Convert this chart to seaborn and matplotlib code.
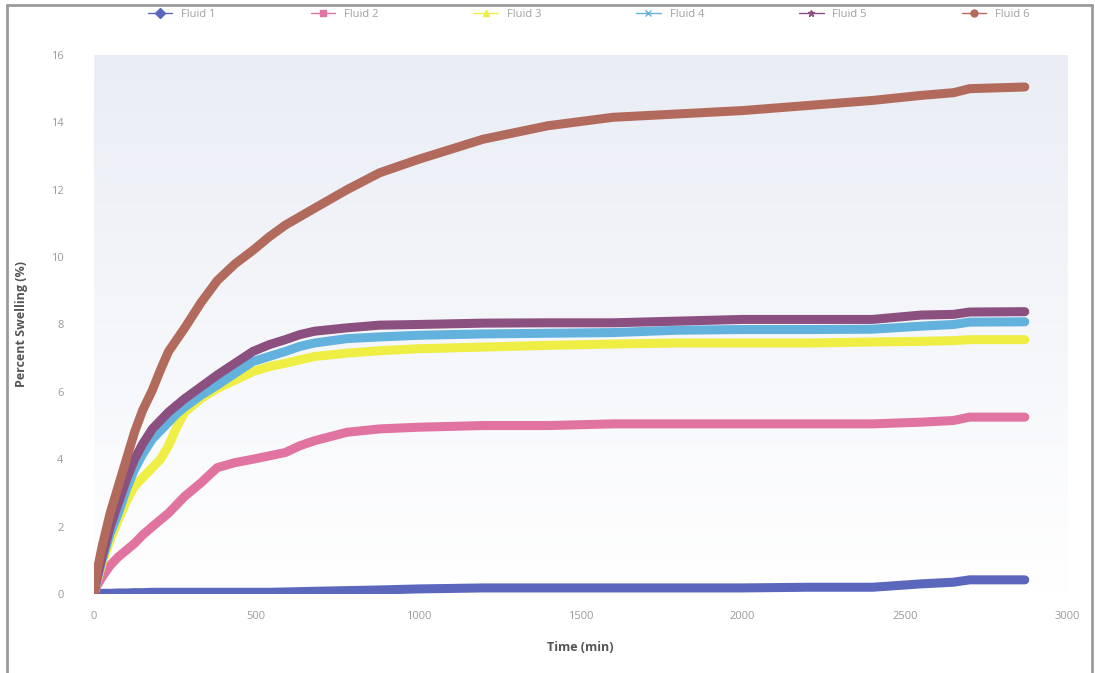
import numpy as np
import pandas as pd
import seaborn as sns
import matplotlib
matplotlib.use("Agg")
import matplotlib.pyplot as plt
from matplotlib.lines import Line2D

time_min = [0, 10, 25, 50, 75, 100, 125, 150, 180, 205, 230, 255, 280, 330, 380, 435,
            490, 540, 590, 635, 680, 780, 880, 1000, 1200, 1400, 1600, 1800, 2000,
            2200, 2400, 2550, 2650, 2700, 2870]

fluid_1 = [0, 0.01, 0.02, 0.02, 0.03, 0.03, 0.04, 0.04, 0.05, 0.05, 0.05, 0.05, 0.05, 0.05,
           0.05, 0.05, 0.05, 0.05, 0.06, 0.07, 0.08, 0.1, 0.12, 0.15, 0.18, 0.18, 0.18,
           0.18, 0.18, 0.2, 0.2, 0.3, 0.35, 0.42, 0.42]
fluid_2 = [0, 0.25, 0.5, 0.85, 1.1, 1.3, 1.5, 1.75, 2.0, 2.2, 2.4, 2.65, 2.9, 3.3, 3.75, 3.9,
           4.0, 4.1, 4.2, 4.4, 4.55, 4.8, 4.9, 4.95, 5.0, 5.0, 5.05, 5.05, 5.05, 5.05, 5.05,
           5.1, 5.15, 5.25, 5.25]
fluid_3 = [0, 0.4, 0.9, 1.6, 2.2, 2.75, 3.2, 3.45, 3.75, 4.0, 4.4, 4.95, 5.4, 5.8, 6.1, 6.35,
           6.6, 6.75, 6.85, 6.95, 7.05, 7.15, 7.22, 7.28, 7.33, 7.38, 7.42, 7.45, 7.45, 7.45,
           7.48, 7.5, 7.52, 7.55, 7.55]
fluid_4 = [0, 0.45, 1.0, 1.8, 2.4, 3.1, 3.7, 4.15, 4.6, 4.85, 5.1, 5.35, 5.55, 5.9, 6.2, 6.55,
           6.9, 7.05, 7.2, 7.35, 7.45, 7.58, 7.63, 7.68, 7.72, 7.74, 7.76, 7.83, 7.85, 7.85,
           7.86, 7.95, 8.0, 8.07, 8.08]
fluid_5 = [0, 0.5, 1.1, 2.0, 2.7, 3.4, 4.0, 4.45, 4.9, 5.15, 5.4, 5.6, 5.8, 6.15, 6.5, 6.85,
           7.2, 7.4, 7.55, 7.7, 7.8, 7.9, 7.98, 8.0, 8.04, 8.05, 8.05, 8.1, 8.15, 8.15, 8.15,
           8.28, 8.3, 8.37, 8.38]
fluid_6 = [0, 0.7, 1.4, 2.4, 3.2, 4.0, 4.8, 5.45, 6.05, 6.65, 7.2, 7.55, 7.9, 8.65, 9.3, 9.8,
           10.2, 10.6, 10.95, 11.2, 11.45, 12.0, 12.5, 12.9, 13.5, 13.9, 14.15, 14.25, 14.35,
           14.5, 14.65, 14.8, 14.88, 15.0, 15.05]

names = ["Fluid 1", "Fluid 2", "Fluid 3", "Fluid 4", "Fluid 5", "Fluid 6"]
colors = ["#5a67bd", "#e073a0", "#eeee45", "#62b2dd", "#8b4f80", "#b26a5c"]
markers = ["D", "s", "^", "x", "*", "o"]

series = [fluid_1, fluid_2, fluid_3, fluid_4, fluid_5, fluid_6]
df = pd.concat([pd.DataFrame({"Time": time_min, "Swelling": v, "Fluid": n})
                for n, v in zip(names, series)], ignore_index=True)

sns.set_style("white")
plt.rcParams["font.family"] = ["Open Sans", "DejaVu Sans"]
fig = plt.figure(figsize=(10.95, 6.73), dpi=100)
ax = fig.add_axes([0.0858, 0.1174, 0.8886, 0.8009])

# faint plot-area gradient
grad = np.linspace(0, 1, 256).reshape(-1, 1)
ax.imshow(grad, extent=[0, 3000, 0, 16], aspect="auto", origin="upper",
          cmap=matplotlib.colors.LinearSegmentedColormap.from_list("bg", ["#eaedf5", "#ffffff"]),
          zorder=0)

sns.lineplot(data=df, x="Time", y="Swelling", hue="Fluid", palette=colors,
             linewidth=6.5, ax=ax, legend=False, zorder=3,
             solid_capstyle="round", solid_joinstyle="round")

ax.set_xlim(0, 3000)
ax.set_ylim(0, 16)
ax.set_xticks(range(0, 3001, 500))
ax.set_yticks(range(0, 17, 2))
ax.tick_params(colors="#9a9a9a", labelsize=8, length=0, pad=12)
ax.tick_params(axis="y", pad=22)
for s in ax.spines.values():
    s.set_visible(False)

ax.set_xlabel("Time (min)", fontsize=9, fontweight="bold", color="#555555", labelpad=14)
ax.set_ylabel("Percent Swelling (%)", fontsize=9, fontweight="bold", color="#555555", labelpad=16)

handles = [Line2D([0], [0], color=c, marker=m, markersize=5, linewidth=1)
           for c, m in zip(colors, markers)]
leg = ax.legend(handles, names, loc="center", bbox_to_anchor=(0.045, 1.055, 0.927, 0.04),
                mode="expand", ncol=6, frameon=False, fontsize=8, handlelength=2.2)
for t in leg.get_texts():
    t.set_color("#a0a0a0")

# outer chart frame
for xs, ys in [([0.006, 0.006], [0.0, 0.993]), ([0.997, 0.997], [0.0, 0.993]),
               ([0.006, 0.997], [0.993, 0.993])]:
    fig.add_artist(Line2D(xs, ys, color="#9a9a9a", linewidth=2, transform=fig.transFigure))

fig.savefig("out.png", dpi=100)
